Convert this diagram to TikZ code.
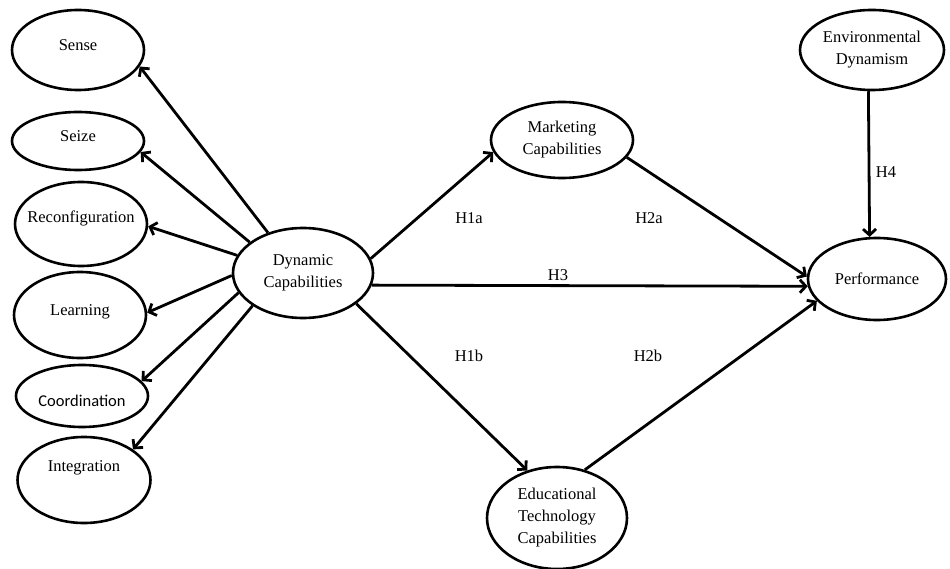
\documentclass[tikz,border=0pt]{standalone}
\usetikzlibrary{arrows.meta,shapes.geometric}
\usepackage{fontspec}
\setmainfont{Liberation Serif}
\newfontfamily\calfont{Carlito}

\begin{document}
\begin{tikzpicture}[
  x=1pt, y=-1pt,
  construct/.style={draw, ellipse, line width=2.6pt, inner sep=0pt,
                    minimum width=132pt, align=center,
                    font=\fontsize{16.5}{22}\selectfont},
  arr/.style={-{Straight Barb[length=6pt, width=13pt]}, line width=2.8pt},
  hyp/.style={font=\fontsize{16.5}{19}\selectfont},
]
  \useasboundingbox (0,0) rectangle (950,569);

  % first-order dimensions
  \node[construct, minimum height=80pt, text depth=9pt] (sense) at (78,50) {Sense};
  \node[construct, minimum height=58pt, text depth=9pt] (seize) at (78,141) {Seize};
  \node[construct, minimum height=84pt, text depth=15pt] (reconf) at (81,224) {\makebox[0pt]{Reconfiguration}};
  \node[construct, minimum height=86pt, text depth=9pt] (learn) at (80,315) {Learning};
  \node[construct, minimum height=62pt, text height=21pt] (coord) at (82,396) {\calfont Coordination};
  \node[construct, minimum height=86pt, minimum width=133pt, text depth=27pt] (integ) at (84,480) {Integration};

  % main constructs
  \node[construct, minimum width=140pt, minimum height=90pt] (dyncap) at (303,273) {Dynamic\\Capabilities};
  \node[construct, minimum width=142pt, minimum height=76pt] (mktcap) at (562,140) {Marketing\\Capabilities};
  \node[construct, minimum width=140pt, minimum height=102pt] (edutech) at (557,518) {Educational\\Technology\\Capabilities};
  \node[construct, minimum width=144pt, minimum height=80pt] (envdyn) at (872,50) {Environmental\\Dynamism};
  \node[construct, minimum width=138pt, minimum height=82pt] (perf) at (877,279) {Performance};

  % hypothesis labels
  \node[hyp] (h1a) at (469,218) {H1a};
  \node[hyp] (h1b) at (469,356) {H1b};
  \node[hyp] (h2a) at (649,218) {H2a};
  \node[hyp] (h2b) at (648,356) {H2b};
  \node[hyp] (h3) at (558,275) {H3};
  \node[hyp] (h4) at (886,172) {H4};

  \draw[arr] (dyncap.131) -- (sense.-15);
  \draw[arr] (dyncap.150) -- (seize.-10);
  \draw[arr] (dyncap.165) -- (reconf.-2);
  \draw[arr] (dyncap.182) -- (learn.2);
  \draw[arr] (dyncap.197) -- (coord.14);
  \draw[arr] (dyncap.213) -- (integ.32);

  \draw[arr] (dyncap.12) -- (mktcap.190);
  \draw[arr] (dyncap.-10) -- (perf.186);
  \draw[arr] (dyncap.-30) -- (edutech.122);
  \draw[arr] (mktcap.-15) -- (perf.178);
  \draw[arr] (edutech.60) -- (perf.200);
  \draw[arr] (envdyn.265) -- (perf.100);
\end{tikzpicture}
\end{document}
